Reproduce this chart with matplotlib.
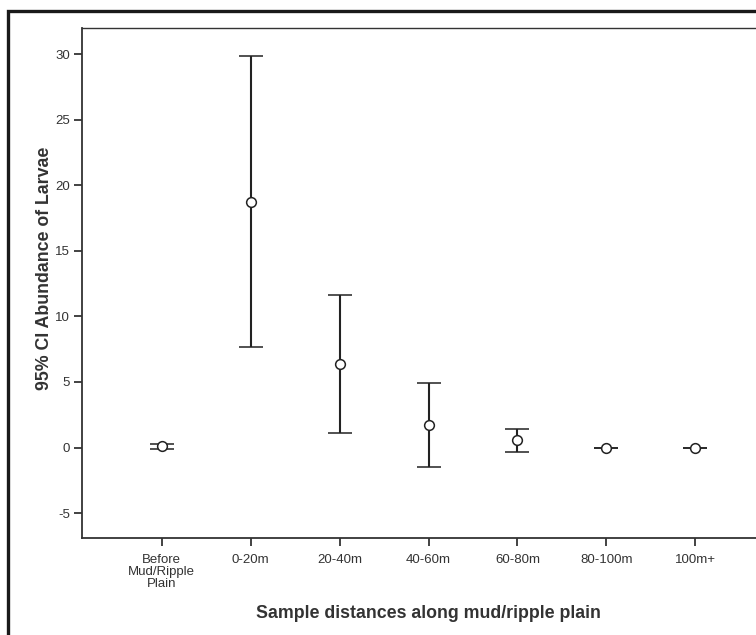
import matplotlib
matplotlib.use("Agg")
import matplotlib.pyplot as plt
from matplotlib.patches import Rectangle

categories = ["Before\nMud/Ripple\nPlain", "0-20m", "20-40m", "40-60m", "60-80m", "80-100m", "100m+"]
means = [0.10, 18.75, 6.40, 1.70, 0.55, 0.00, 0.00]
lower = [-0.10, 7.70, 1.12, -1.50, -0.35, 0.00, 0.00]
upper = [0.30, 29.83, 11.66, 4.90, 1.45, 0.00, 0.00]
yticks = [-5, 0, 5, 10, 15, 20, 25, 30]

plt.rcParams['font.family'] = ['Liberation Sans', 'DejaVu Sans']

fig = plt.figure(figsize=(7.56, 6.35), dpi=100)
ax = fig.add_axes([82/756, 1 - 538/635, (775 - 82)/756, (538 - 28)/635])

x = list(range(len(categories)))
yerr = [[m - l for m, l in zip(means, lower)], [u - m for m, u in zip(means, upper)]]
ax.errorbar(x, means, yerr=yerr, fmt='o', mfc='white', mec='#222222', mew=1.1,
            ms=7, ecolor='#222222', elinewidth=1.5, capsize=8.5, capthick=1.6,
            color='#222222', zorder=3)

ax.set_xlim(-0.894, 6.894)
ax.set_ylim(-6.9, 32.0)
ax.set_yticks(yticks)
ax.set_yticklabels([str(v) for v in yticks])
ax.set_xticks(x)
ax.set_xticklabels(categories, linespacing=1.0)

for side in ['left', 'bottom', 'top', 'right']:
    ax.spines[side].set_color('#333333')
    ax.spines[side].set_linewidth(1.3)
ax.spines['top'].set_linewidth(1.0)
ax.tick_params(axis='both', direction='out', length=6, width=1.2, color='#222222',
               labelsize=9.5, labelcolor='#333333')
ax.tick_params(axis='y', pad=2.5)
ax.tick_params(axis='x', pad=5.5)

ax.set_xlabel("Sample distances along mud/ripple plain", fontsize=12.8,
              fontweight='bold', color='#333333')
ax.set_ylabel("95% CI Abundance of Larvae", fontsize=12.8, fontweight='bold',
              color='#333333')
ax.xaxis.set_label_coords(0.5, -(605 - 538) / 510)
ax.yaxis.set_label_coords(-(82 - 53) / 693, (538 - 268) / 510)

fig.patches.append(Rectangle((7.5/756, -0.1), 1.2, 1 - 10.5/635 + 0.1,
                             transform=fig.transFigure, fill=False,
                             edgecolor='#1a1a1a', linewidth=2.4))

fig.savefig("out.png", dpi=100)
